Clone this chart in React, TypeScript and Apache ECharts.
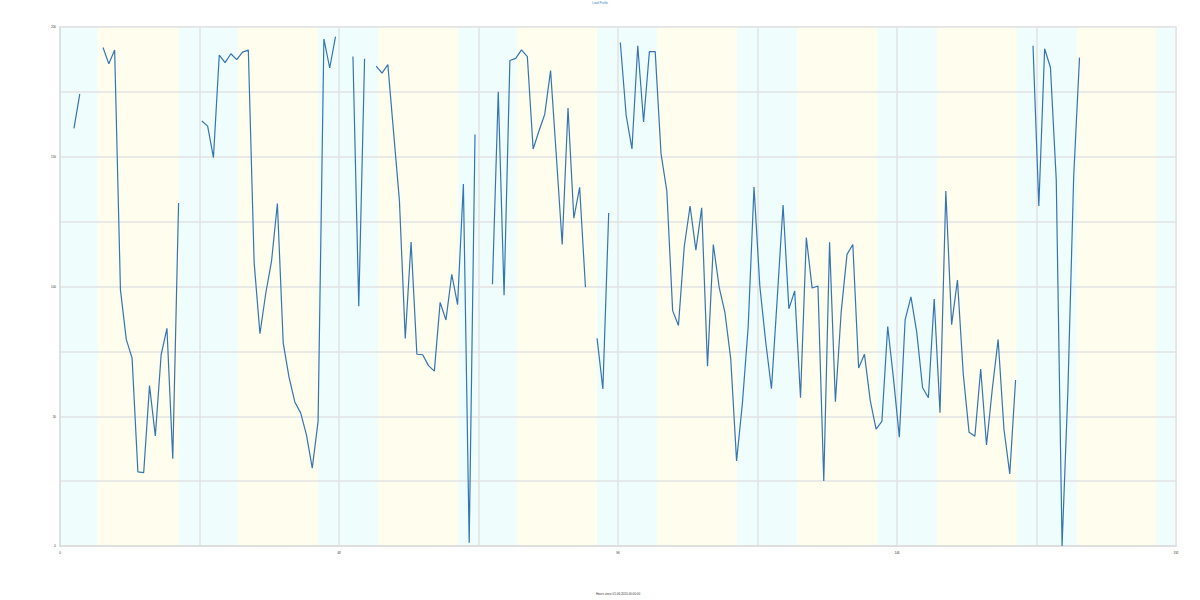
import React, { useEffect, useRef } from "react";
import * as echarts from "echarts";

const titleText = "Load Profile";
const xAxisName = "Hours since 01.06.2020 00:00:00";
const startHour = 2.4;
const values: (number | null)[] = [
  160.9, 174.1, null, null, null, 192.1, 185.8, 191.1, 98.7, 79.6,
  72.4, 28.6, 28.3, 61.8, 42.4, 73.7, 83.9, 33.6, 132.2, null,
  null, null, 163.8, 161.8, 149.7, 189.2, 186.3, 189.7, 187.4, 190.3,
  191.1, 109.2, 81.8, 97.4, 109.9, 132.0, 78.3, 65.1, 55.5, 51.3,
  42.8, 30.0, 48.0, 195.4, 184.2, 196.3, null, null, 188.6, 92.4,
  187.8, null, 184.9, 182.2, 185.5, 159.2, 132.9, 80.0, 117.1, 73.9,
  73.7, 69.5, 67.4, 93.9, 87.1, 104.7, 93.0, 139.5, 1.3, 158.6,
  null, null, 100.9, 175.0, 96.6, 187.1, 187.9, 191.2, 188.6, 153.0,
  159.9, 166.4, 183.2, 150.0, 116.2, 168.8, 126.3, 138.2, 99.7, null,
  80.0, 60.5, 128.3, null, 194.0, 166.0, 153.0, 192.8, 163.4, 190.5,
  190.5, 151.2, 136.8, 90.7, 85.0, 115.4, 131.0, 114.0, 130.3, 69.3,
  116.2, 99.8, 89.9, 72.0, 32.8, 54.9, 84.6, 138.3, 100.2, 78.9,
  60.6, 95.6, 131.4, 91.4, 98.3, 57.1, 118.9, 99.4, 100.2, 25.1,
  117.0, 55.6, 90.3, 112.4, 116.2, 68.6, 73.9, 56.0, 45.0, 48.0,
  84.6, 64.4, 41.9, 87.2, 96.0, 82.3, 61.0, 57.1, 95.2, 51.4,
  136.8, 85.3, 102.5, 66.3, 43.8, 42.3, 68.2, 38.9, 60.6, 79.6,
  45.0, 27.8, 64.0, null, null, 192.8, 131.0, 191.6, 184.4, 141.0,
  0.0, 59.8, 142.5, 188.2,
];
const sunrise = [6.5, 30.6, 54.7, 78.6, 102.7, 126.8, 150.9, 175.0];
const sunset = [20.5, 44.4, 68.5, 92.4, 116.5, 140.6, 164.6, 188.6];
const xMax = 192;
const yMax = 200;

export default function App() {
  const ref = useRef<HTMLDivElement>(null);
  useEffect(() => {
    if (!ref.current) return;
    const chart = echarts.init(ref.current, null, { renderer: "svg" });
    const data = values.map((v, i) => [startHour + i, v]);
    const areas: any[] = [];
    let prev = 0;
    sunrise.forEach((r, i) => {
      areas.push([{ xAxis: prev, itemStyle: { color: "#effdfd" } }, { xAxis: r }]);
      areas.push([{ xAxis: r, itemStyle: { color: "#fefdee" } }, { xAxis: sunset[i] }]);
      prev = sunset[i];
    });
    areas.push([{ xAxis: prev, itemStyle: { color: "#effdfd" } }, { xAxis: xMax }]);
    chart.setOption({
      animation: false,
      backgroundColor: "#ffffff",
      title: {
        text: titleText,
        left: "center",
        top: 0,
        padding: [1, 0, 0, 0],
        textStyle: { fontSize: 3, color: "#3f7fc4", fontWeight: "normal" },
      },
      grid: {
        left: 60,
        right: 24,
        top: 27,
        bottom: 48,
        show: true,
        z: -2,
        borderColor: "#e4e4e4",
        borderWidth: 1.5,
      },
      xAxis: {
        type: "value",
        min: 0,
        max: xMax,
        interval: 24,
        z: 5,
        name: xAxisName,
        nameLocation: "middle",
        nameGap: 46,
        nameTextStyle: { fontSize: 3, color: "#333" },
        axisLine: { show: true, lineStyle: { color: "#dcdcdc", width: 1.5 } },
        axisTick: { show: false },
        axisLabel: {
          fontSize: 3,
          color: "#333",
          margin: 5,
          formatter: (v: number) => (v % 48 === 0 ? String(v) : ""),
        },
        splitLine: { show: true, lineStyle: { color: "#e2e2e2", width: 1.5 } },
      },
      yAxis: {
        type: "value",
        min: 0,
        max: yMax,
        interval: 25,
        z: 5,
        axisLine: { show: true, lineStyle: { color: "#dcdcdc", width: 1.5 } },
        axisTick: { show: false },
        axisLabel: {
          fontSize: 3,
          color: "#333",
          margin: 4,
          formatter: (v: number) => (v % 50 === 0 ? String(v) : ""),
        },
        splitLine: { show: true, lineStyle: { color: "#e2e2e2", width: 1.5 } },
      },
      series: [
        {
          type: "line",
          data: [],
          silent: true,
          z: -1,
          markArea: { silent: true, data: areas },
        },
        {
          type: "line",
          data,
          showSymbol: false,
          connectNulls: false,
          lineStyle: { color: "#3575b1", width: 1.2 },
          itemStyle: { color: "#3575b1" },
          z: 10,
        },
      ],
    });
    return () => chart.dispose();
  }, []);
  return (
    <div
      ref={ref}
      style={{ position: "fixed", left: 0, top: 0, width: 1200, height: 600 }}
    />
  );
}
